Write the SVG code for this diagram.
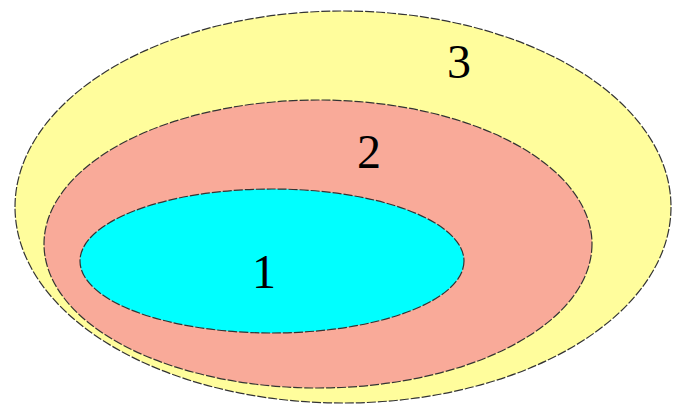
<svg xmlns="http://www.w3.org/2000/svg" width="674" height="405" viewBox="0 0 674 405">
<style>
.e{stroke:#333;stroke-width:1.2;stroke-dasharray:9 2}
.t{font-family:"Liberation Serif",serif;font-size:48px;fill:#000;text-anchor:middle}
</style>
<rect width="674" height="405" fill="#fff"/>
<g id="set3">
<ellipse class="e" cx="343" cy="207" rx="328" ry="196" fill="#FFFD9C"/>
<text class="t" x="459" y="78">3</text>
</g>
<g id="set2">
<ellipse class="e" cx="318" cy="244" rx="274" ry="144" fill="#F9AA99"/>
<text class="t" x="369" y="168">2</text>
</g>
<g id="set1">
<ellipse class="e" cx="272" cy="261" rx="192" ry="72" fill="#00FFFF"/>
<text class="t" x="264" y="288">1</text>
</g>
<g id="connectors"/>
</svg>
